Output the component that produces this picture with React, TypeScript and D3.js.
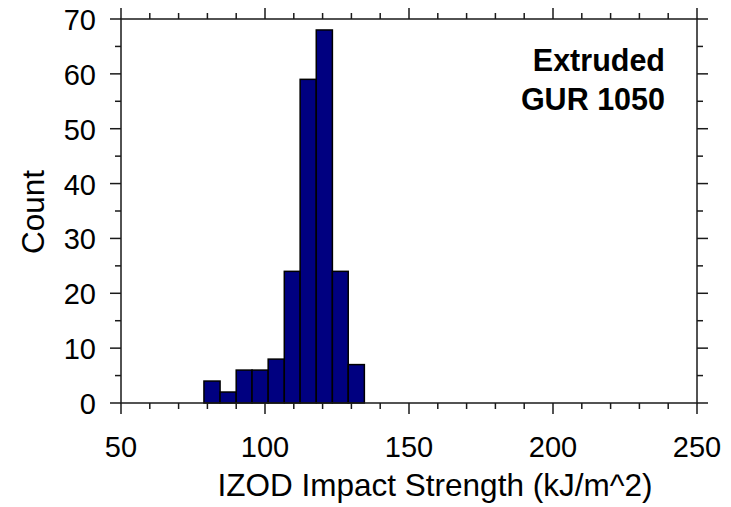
import React from 'react'
import * as d3 from 'd3'

// histogram bins (lower edges, kJ/m^2) and counts
const binEdges = [78.8, 84.4, 90.0, 95.5, 101.1, 106.7, 112.2, 117.8, 123.4, 128.9, 134.5]
const counts = [4, 2, 6, 6, 8, 24, 59, 68, 24, 7]

const xMajorTicks = [50, 100, 150, 200, 250]
const xMinorTicks = [60, 70, 80, 90, 110, 120, 130, 140, 160, 170, 180, 190, 210, 220, 230, 240]
const yMajorTicks = [0, 10, 20, 30, 40, 50, 60, 70]
const yMinorTicks = [5, 15, 25, 35, 45, 55, 65]

const labelLines = ['Extruded', 'GUR 1050']

const width = 731
const height = 507
const margin = { top: 19, right: 34, bottom: 104, left: 121 }
const font = '"Liberation Sans", Arial, Helvetica, sans-serif'
const axisColor = '#1a1a1a'

const App = () => {
  const x = d3.scaleLinear().domain([50, 250]).range([margin.left, width - margin.right])
  const y = d3.scaleLinear().domain([0, 70]).range([height - margin.bottom, margin.top])

  const [x0, x1] = x.range()
  const [y0, y1] = y.range()

  const bars = counts.map((c, i) => ({ lo: binEdges[i], hi: binEdges[i + 1], count: c }))

  // ticks go outward on every side
  const xTick = (v: number, len: number, key: string) => (
    <g key={key}>
      <line x1={x(v)} x2={x(v)} y1={y0} y2={y0 + len} stroke={axisColor} strokeWidth={1.5} />
      <line x1={x(v)} x2={x(v)} y1={y1} y2={y1 - len} stroke={axisColor} strokeWidth={1.5} />
    </g>
  )
  const yTick = (v: number, len: number, key: string) => (
    <g key={key}>
      <line x1={x0} x2={x0 - len} y1={y(v)} y2={y(v)} stroke={axisColor} strokeWidth={1.5} />
      <line x1={x1} x2={x1 + len} y1={y(v)} y2={y(v)} stroke={axisColor} strokeWidth={1.5} />
    </g>
  )

  return (
    <svg width={width} height={height} style={{ position: 'absolute', left: 0, top: 0, background: '#fff' }}>
      <g>
        {bars.map((b, i) => (
          <rect
            key={i}
            x={x(b.lo)}
            y={y(b.count)}
            width={x(b.hi) - x(b.lo)}
            height={y(0) - y(b.count)}
            fill="#000080"
            stroke="#000"
            strokeWidth={1.5}
          />
        ))}
      </g>

      <rect x={x0} y={y1} width={x1 - x0} height={y0 - y1} fill="none" stroke={axisColor} strokeWidth={1.5} />

      {xMajorTicks.map((v) => xTick(v, 11, 'xM' + v))}
      {xMinorTicks.map((v) => xTick(v, 6, 'xm' + v))}
      {yMajorTicks.map((v) => yTick(v, 11, 'yM' + v))}
      {yMinorTicks.map((v) => yTick(v, 6, 'ym' + v))}

      <g fontFamily={font} fontSize={29} fill="#000">
        {xMajorTicks.map((v) => (
          <text key={v} x={x(v)} y={y0 + 54} textAnchor="middle">{v}</text>
        ))}
        {yMajorTicks.map((v) => (
          <text key={v} x={x0 - 25} y={y(v) + 11} textAnchor="end">{v}</text>
        ))}
      </g>

      <g fontFamily={font} fontSize={31.5} fill="#000">
        <text x={435} y={496} textAnchor="middle">IZOD Impact Strength (kJ/m^2)</text>
        <text transform={`translate(43.5, ${(y0 + y1) / 2 + 1}) rotate(-90)`} textAnchor="middle">Count</text>
      </g>

      <g fontFamily={font} fontSize={30.5} fontWeight="bold" fill="#000">
        {labelLines.map((t, i) => (
          <text key={t} x={665} y={71 + i * 38.5} textAnchor="end">{t}</text>
        ))}
      </g>
    </svg>
  )
}

export default App
